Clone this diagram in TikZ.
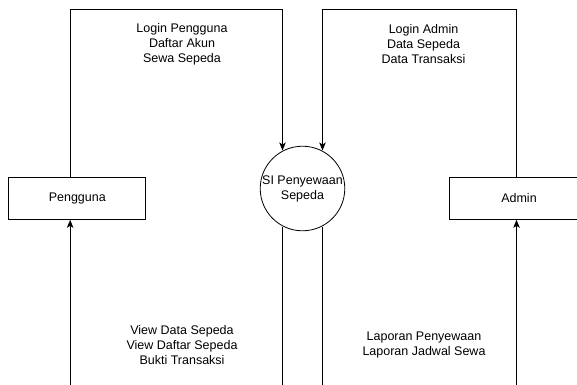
\documentclass[tikz,border=0pt]{standalone}
\usepackage{fontspec}
\setmainfont{Liberation Sans}
\usetikzlibrary{arrows.meta,calc}
\begin{document}
\begin{tikzpicture}[x=1pt,y=-1pt,
  every node/.style={font=\fontsize{12.5}{15}\selectfont},
  entity/.style={draw,line width=1pt,minimum width=136.7pt,minimum height=42pt,inner sep=0pt},
  procnode/.style={draw,circle,line width=0.8pt,minimum size=84pt,inner sep=0pt,align=center},
  flow/.style={draw,line width=1pt,-{Stealth[length=8pt,width=6.5pt,inset=2pt]}},
  plain/.style={draw,line width=1pt},
  lbl/.style={align=center,inner sep=0pt}]
\useasboundingbox (0,0) rectangle (577,384);
\fill[white] (0,0) rectangle (577,384);

\node[entity] (peng) at (77.3,198.3) {Pengguna};
\node[entity,minimum width=140pt] (adm) at (519,198.3) {Admin};
\node[procnode] (si) at (302.5,188.5) {SI Penyewaan\\Sepeda};

% anchor coordinates
\coordinate (pengTop) at ([xshift=61.7pt]peng.north west);
\coordinate (pengBot) at ([xshift=61.7pt]peng.south west);
\coordinate (admTop) at ([xshift=68pt]adm.north west);
\coordinate (admBot) at ([xshift=68pt]adm.south west);
\coordinate (siInL) at ($(si.center)+(-20,-38)$);
\coordinate (siInR) at ($(si.center)+(20,-38)$);
\coordinate (siOutL) at ($(si.center)+(-20,38)$);
\coordinate (siOutR) at ($(si.center)+(20,38)$);

% top flows
\draw[flow] (pengTop) -- (pengTop |- 0,9.3) -- (siInL |- 0,9.3) -- (siInL);
\draw[flow] (admTop) -- (admTop |- 0,9.3) -- (siInR |- 0,9.3) -- (siInR);

% bottom flows (their lower turns fall below the visible page)
\draw[flow] (siOutL) -- (siOutL |- 0,400) -- (pengBot |- 0,400) -- (pengBot);
\draw[flow] (siOutR) -- (siOutR |- 0,395) -- (admBot |- 0,395) -- (admBot);

% labels
\node[lbl] (l1) at (182,44.5) {Login Pengguna\\Daftar Akun\\Sewa Sepeda};
\node[lbl] (l2) at (423.5,44.5) {Login Admin\\Data Sepeda\\Data Transaksi};
\node[lbl] (l3) at (182,345) {View Data Sepeda\\View Daftar Sepeda\\Bukti Transaksi};
\node[lbl] (l4) at (424,344.8) {Laporan Penyewaan\\Laporan Jadwal Sewa};
\end{tikzpicture}
\end{document}
